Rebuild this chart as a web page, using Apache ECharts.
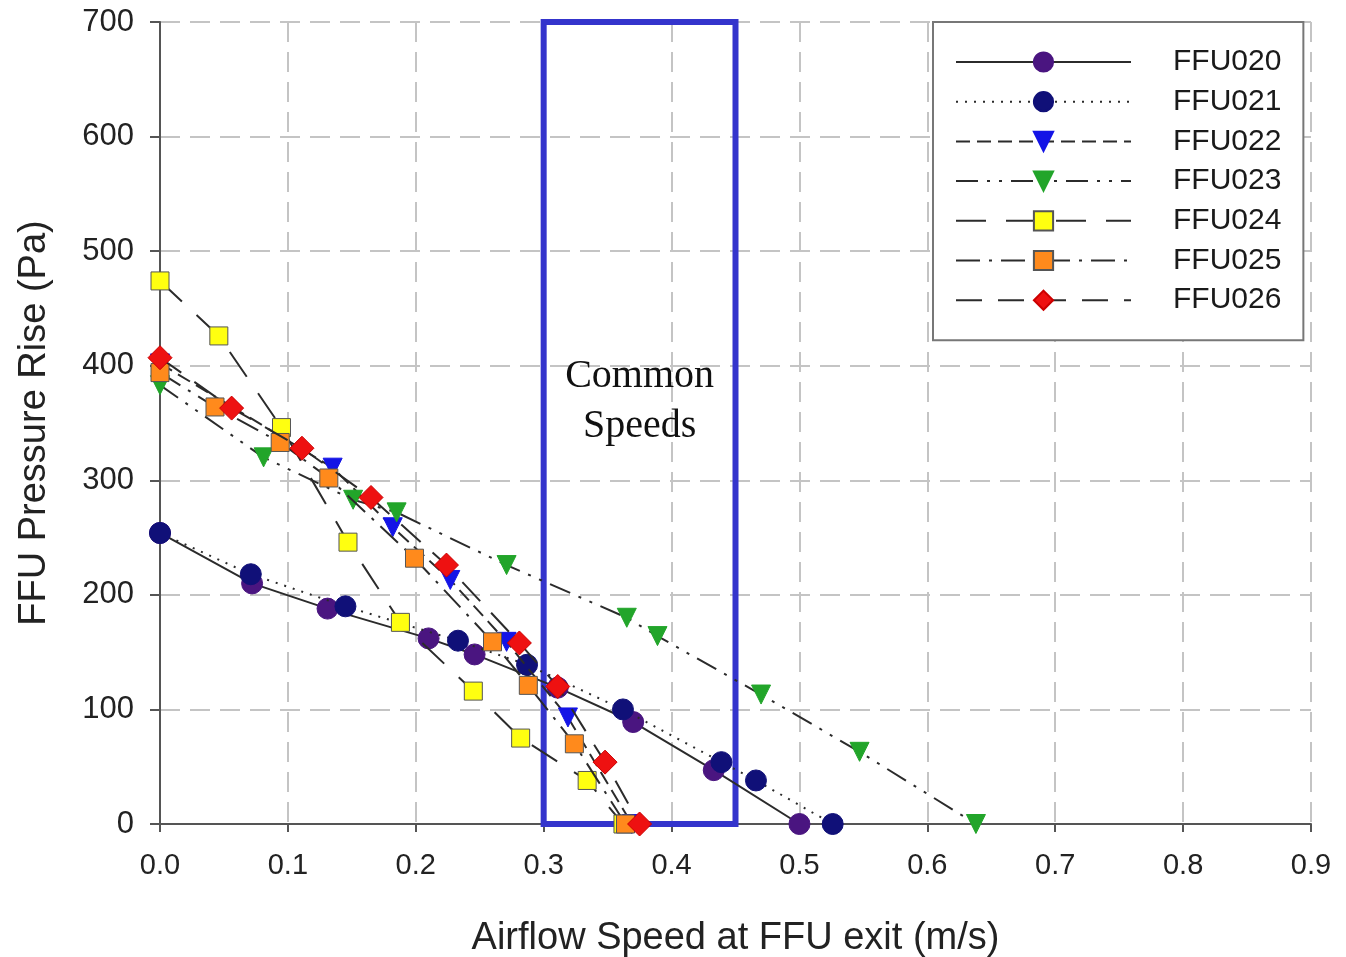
<!DOCTYPE html>
<html>
<head>
<meta charset="utf-8">
<script src="https://cdn.jsdelivr.net/npm/echarts@6/dist/echarts.min.js"></script>
<style>
  html, body { margin: 0; padding: 0; background: #fff; }
  #chart { width: 1346px; height: 957px; }
</style>
</head>
<body>
<div id="chart"></div>
<script>
// airflow speed (m/s) and pressure rise (Pa)
var ffu020X = [0, 0.072, 0.131, 0.21, 0.246, 0.311, 0.37, 0.433, 0.5]
var ffu020Y = [254, 210, 188, 162, 148, 119, 89, 47, 0]
var ffu021X = [0, 0.071, 0.145, 0.233, 0.287, 0.362, 0.439, 0.466, 0.526]
var ffu021Y = [254, 218, 190, 160, 139, 100, 54, 38, 0]
var ffu022X = [0, 0.135, 0.182, 0.227, 0.271, 0.319, 0.369]
var ffu022Y = [402, 311, 259, 213, 159, 93, 0]
var ffu023X = [0, 0.081, 0.151, 0.185, 0.271, 0.365, 0.389, 0.47, 0.547, 0.638]
var ffu023Y = [383, 320, 283, 272, 226, 180, 164, 113, 63, 0]
var ffu024X = [0, 0.046, 0.095, 0.147, 0.188, 0.245, 0.282, 0.334, 0.362]
var ffu024Y = [474, 426, 346, 246, 176, 116, 75, 38, 0]
var ffu025X = [0, 0.043, 0.094, 0.132, 0.199, 0.26, 0.288, 0.324, 0.364]
var ffu025Y = [394, 364, 333, 302, 232, 159, 121, 70, 0]
var ffu026X = [0, 0.056, 0.111, 0.165, 0.224, 0.281, 0.311, 0.348, 0.375]
var ffu026Y = [407, 363, 328, 285, 226, 158, 120, 54, 0]

var seriesNames = ['FFU020', 'FFU021', 'FFU022', 'FFU023', 'FFU024', 'FFU025', 'FFU026']
var commonSpeeds = [0.3, 0.45]

function pairs(xs, ys) {
  var out = []
  for (var i = 0; i < xs.length; i++) out.push([xs[i], ys[i]])
  return out
}

var lineColor = '#2b2b2b'
var styles = [
  { data: pairs(ffu020X, ffu020Y), symbol: 'circle', size: 21, color: '#4a1580', border: '#4a1580', dash: 'solid', rot: 0 },
  { data: pairs(ffu021X, ffu021Y), symbol: 'circle', size: 21, color: '#101078', border: '#101078', dash: [2, 7], rot: 0 },
  { data: pairs(ffu022X, ffu022Y), symbol: 'triangle', size: 19, color: '#1414e6', border: '#1414e6', dash: [14, 7], rot: 180 },
  { data: pairs(ffu023X, ffu023Y), symbol: 'triangle', size: 19, color: '#22a52a', border: '#22a52a', dash: [22, 9, 3, 9, 3, 9], rot: 180 },
  { data: pairs(ffu024X, ffu024Y), symbol: 'rect', size: 18, color: '#ffff10', border: '#555', dash: [30, 20], rot: 0 },
  { data: pairs(ffu025X, ffu025Y), symbol: 'rect', size: 18, color: '#ff8a1c', border: '#555', dash: [24, 9, 3, 9], rot: 0 },
  { data: pairs(ffu026X, ffu026Y), symbol: 'diamond', size: 24, color: '#ee1111', border: '#cc0000', dash: [26, 16], rot: 0 }
]

var series = []
for (var k = 0; k < styles.length; k++) {
  var s = styles[k]
  series.push({
    name: seriesNames[k],
    type: 'line',
    data: s.data,
    symbol: s.symbol,
    symbolSize: s.size,
    symbolRotate: s.rot,
    showAllSymbol: true,
    animation: false,
    lineStyle: { color: lineColor, width: 2, type: s.dash },
    itemStyle: { color: s.color, borderColor: s.border, borderWidth: 1, opacity: 1 },
    z: 2 + k
  })
}

// blue box marking the common speeds
series[0].markArea = {
  silent: true,
  itemStyle: { color: 'rgba(0,0,0,0)', borderColor: '#3434cc', borderWidth: 6 },
  label: {
    show: true,
    position: 'inside',
    offset: [0, -22],
    formatter: 'Common\nSpeeds',
    fontFamily: 'Liberation Serif',
    fontSize: 40,
    lineHeight: 50,
    color: '#111'
  },
  data: [[{ xAxis: commonSpeeds[0], yAxis: 0 }, { xAxis: commonSpeeds[1], yAxis: 700 }]]
}

var chart = echarts.init(document.getElementById('chart'))
chart.setOption({
  backgroundColor: '#fff',
  textStyle: { fontFamily: 'Liberation Sans' },
  grid: { left: 160, right: 35, top: 22, bottom: 133, outerBoundsMode: 'none' },
  legend: {
    orient: 'vertical',
    left: 933,
    top: 22,
    data: seriesNames,
    itemWidth: 175,
    itemHeight: 24,
    itemGap: 9.7,
    padding: [25, 22, 25, 22],
    backgroundColor: '#fff',
    borderColor: '#777',
    borderWidth: 2,
    textStyle: { fontSize: 30, lineHeight: 30, color: '#1a1a1a', padding: [0, 0, 0, 37], fontFamily: 'Liberation Sans' },
    selectedMode: false
  },
  xAxis: {
    type: 'value',
    min: 0,
    max: 0.9,
    interval: 0.1,
    name: 'Airflow Speed at FFU exit (m/s)',
    nameLocation: 'middle',
    nameGap: 96,
    nameTextStyle: { fontSize: 38, color: '#222' },
    axisLine: { show: true, lineStyle: { color: '#555', width: 2 } },
    axisTick: { show: true, length: 8, lineStyle: { color: '#555', width: 2 } },
    axisLabel: { fontSize: 29, color: '#222', margin: 27, formatter: function (v) { return v.toFixed(1) } },
    splitLine: { show: true, lineStyle: { color: '#c4c4c4', width: 2, type: [20, 10] } }
  },
  yAxis: {
    type: 'value',
    min: 0,
    max: 700,
    interval: 100,
    name: 'FFU Pressure Rise (Pa)',
    nameLocation: 'middle',
    nameGap: 106,
    nameTextStyle: { fontSize: 38, color: '#222' },
    axisLine: { show: true, lineStyle: { color: '#555', width: 2 } },
    axisTick: { show: true, length: 10, lineStyle: { color: '#555', width: 2 } },
    axisLabel: { fontSize: 31, color: '#222', margin: 26 },
    splitLine: { show: true, lineStyle: { color: '#c4c4c4', width: 2, type: [20, 10] } }
  },
  series: series
})
</script>
</body>
</html>
